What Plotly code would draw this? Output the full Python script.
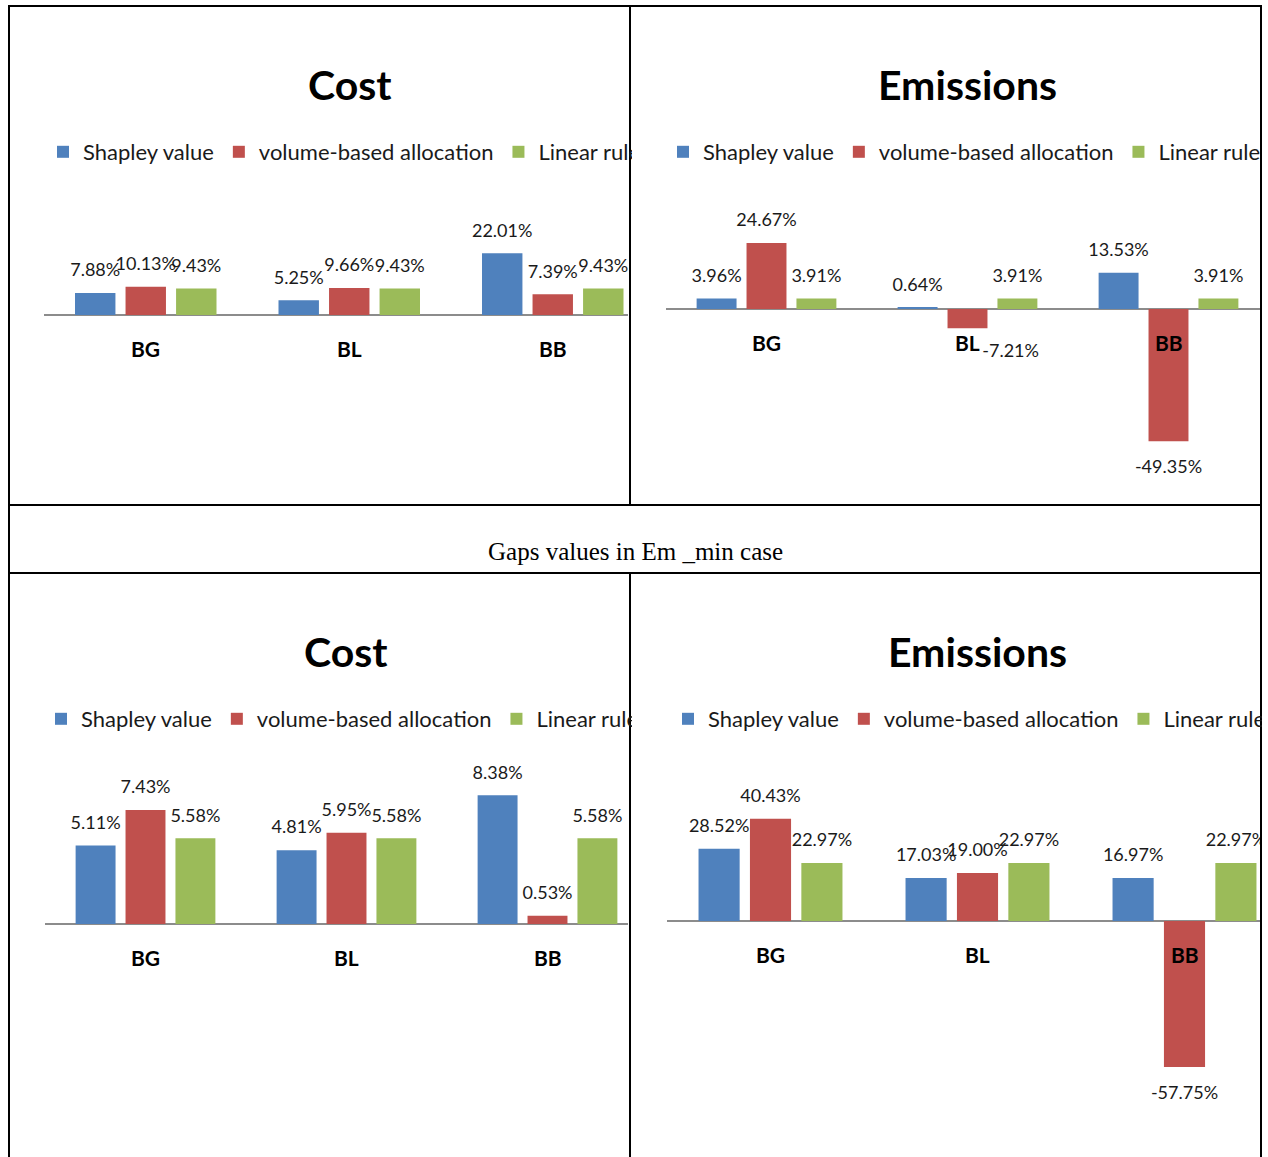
import plotly.graph_objects as go

W, H = 1268, 1157

categories = ["BG", "BL", "BB"]
series_names = ["Shapley value", "volume-based allocation", "Linear rule"]
series_colors = ["#4F81BD", "#C0504D", "#9BBB59"]

# Gap values (%) per allocation rule for each category
cost_top_shapley = [7.88, 5.25, 22.01]
cost_top_volume = [10.13, 9.66, 7.39]
cost_top_linear = [9.43, 9.43, 9.43]

emis_top_shapley = [3.96, 0.64, 13.53]
emis_top_volume = [24.67, -7.21, -49.35]
emis_top_linear = [3.91, 3.91, 3.91]

cost_bot_shapley = [5.11, 4.81, 8.38]
cost_bot_volume = [7.43, 5.95, 0.53]
cost_bot_linear = [5.58, 5.58, 5.58]

emis_bot_shapley = [28.52, 17.03, 16.97]
emis_bot_volume = [40.43, 19.00, -57.75]
emis_bot_linear = [22.97, 22.97, 22.97]

panel_titles = ["Cost", "Emissions", "Cost", "Emissions"]
middle_caption = "Gaps values in Em _min case"

FONT = "Lato"
LABEL_SIZE = 18
BARGAP = 0.255
BARGROUPGAP = 0.2
SLOT = (1 - BARGAP) / 3

# pixel geometry of each chart cell
panels = [
    dict(series=[cost_top_shapley, cost_top_volume, cost_top_linear],
         left=44, cat_px=203.5, right=628, zero=315, ppu=2.8, top=185, bottom=430,
         title_x=350, title_y=84, leg_x=43, leg_y=152),
    dict(series=[emis_top_shapley, emis_top_volume, emis_top_linear],
         left=666, cat_px=201, right=1261, zero=309, ppu=2.68, top=185, bottom=495,
         title_x=967, title_y=84, leg_x=663, leg_y=152),
    dict(series=[cost_bot_shapley, cost_bot_volume, cost_bot_linear],
         left=45, cat_px=201, right=628, zero=924, ppu=15.35, top=745, bottom=1100,
         title_x=346, title_y=651, leg_x=41, leg_y=719),
    dict(series=[emis_bot_shapley, emis_bot_volume, emis_bot_linear],
         left=667, cat_px=207, right=1261, zero=921, ppu=2.53, top=745, bottom=1150,
         title_x=977, title_y=651, leg_x=668, leg_y=719),
]


def px(x):
    return x / W


def py(y):
    return 1 - y / H


fig = go.Figure()
layout = dict(annotations=[], shapes=[])
xpos = list(range(len(categories)))

for k, (p, title) in enumerate(zip(panels, panel_titles)):
    sfx = "" if k == 0 else str(k + 1)
    xa, ya = "x" + sfx, "y" + sfx
    leg = "legend" + sfx

    layout["xaxis" + sfx] = dict(
        domain=[px(p["left"]), px(p["right"])],
        range=[-0.5, -0.5 + (p["right"] - p["left"]) / p["cat_px"]],
        anchor=ya, showticklabels=False, showgrid=False, zeroline=False,
        showline=False, fixedrange=True,
    )
    layout["yaxis" + sfx] = dict(
        domain=[py(p["bottom"]), py(p["top"])],
        range=[(p["zero"] - p["bottom"]) / p["ppu"], (p["zero"] - p["top"]) / p["ppu"]],
        anchor=xa, showticklabels=False, showgrid=False, zeroline=True,
        zerolinecolor="#8c8c8c", zerolinewidth=2, showline=False, fixedrange=True,
    )

    for i, (vals, name, color) in enumerate(zip(p["series"], series_names, series_colors)):
        fig.add_trace(go.Bar(
            x=xpos, y=vals, name=name, marker=dict(color=color, line=dict(width=0)),
            xaxis=xa, yaxis=ya, legend=leg, hoverinfo="skip",
        ))
        # value labels: above positive bars, below negative ones; a short
        # negative bar gets its label beside the category name
        positions, sizes = [], []
        for v in vals:
            if v >= 0:
                positions.append("top center")
                sizes.append(18)
            elif abs(v) * p["ppu"] < 40:
                positions.append("bottom right")
                sizes.append(22)
            else:
                positions.append("bottom center")
                sizes.append(28)
        fig.add_trace(go.Scatter(
            x=[j + (i - 1) * SLOT for j in xpos], y=vals,
            mode="markers+text", marker=dict(size=sizes, opacity=0),
            text=[f"{v:.2f}%" for v in vals], textposition=positions,
            textfont=dict(family=FONT, size=LABEL_SIZE, color="#1a1a1a"),
            cliponaxis=True, showlegend=False, hoverinfo="skip",
            xaxis=xa, yaxis=ya,
        ))

    for j, cat in zip(xpos, categories):
        layout["annotations"].append(dict(
            xref=xa, yref=ya, x=j, y=0, yshift=-33, text=f"<b>{cat}</b>",
            showarrow=False, font=dict(family=FONT, size=21, color="#000000"),
        ))

    layout["annotations"].append(dict(
        xref="paper", yref="paper", x=px(p["title_x"]), y=py(p["title_y"]),
        text=f"<b>{title}</b>", showarrow=False, xanchor="center", yanchor="middle",
        font=dict(family=FONT, size=41, color="#000000"),
    ))

    layout[leg] = dict(
        orientation="h", x=px(p["leg_x"]), y=py(p["leg_y"]),
        xanchor="left", yanchor="middle", bgcolor="rgba(0,0,0,0)",
        font=dict(family=FONT, size=22, color="#1a1a1a"),
        itemclick=False, itemdoubleclick=False, traceorder="normal",
    )

    # each chart is cut off at the border of its table cell: blank out the
    # part of the legend row that runs past the cell's right edge
    edge = 632 if k % 2 == 0 else 1262
    layout["annotations"].append(dict(
        xref="paper", yref="paper", x=px(edge), y=py(p["leg_y"]),
        xanchor="left", yanchor="middle", text="", showarrow=False,
        width=34 if k % 2 == 0 else 8, height=36,
        bgcolor="white", borderwidth=0, borderpad=0,
    ))

# middle caption row
layout["annotations"].append(dict(
    xref="paper", yref="paper", x=px(635), y=py(551), text=middle_caption,
    showarrow=False, xanchor="center", yanchor="middle",
    font=dict(family="Liberation Serif", size=25, color="#000000"),
))

# table borders
border = dict(color="#000000", width=2)
lines = [
    (8, 6, 1261, 6), (8, 505, 1261, 505), (8, 573, 1261, 573),
    (9, 5, 9, 1157), (1261, 5, 1261, 1157),
    (630, 5, 630, 505), (630, 573, 630, 1157),
]
for x0, y0, x1, y1 in lines:
    layout["shapes"].append(dict(
        type="line", xref="paper", yref="paper",
        x0=px(x0), y0=py(y0), x1=px(x1), y1=py(y1), line=border, layer="above",
    ))

fig.update_layout(
    width=W, height=H, autosize=False,
    margin=dict(l=0, r=0, t=0, b=0, pad=0, autoexpand=False),
    paper_bgcolor="white", plot_bgcolor="white",
    barmode="group", bargap=BARGAP, bargroupgap=BARGROUPGAP,
    font=dict(family=FONT),
    **layout,
)

fig.write_html("out.html")
